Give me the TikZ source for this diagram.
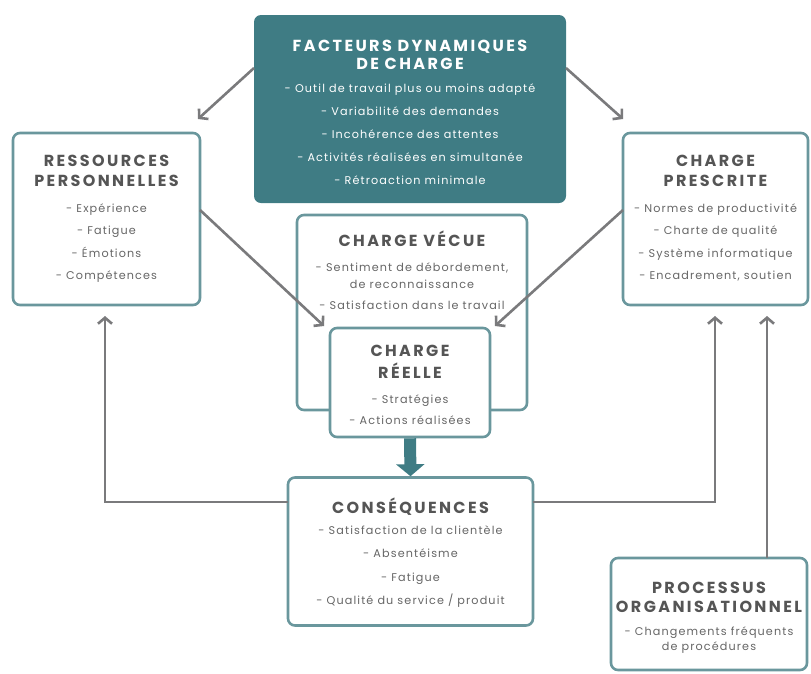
\documentclass[tikz,border=0pt]{standalone}
\usepackage{fontspec}
\setmainfont{Poppins}
\newfontfamily\ttlfont[LetterSpace=15]{Poppins}
\newfontfamily\itmfont[LetterSpace=10]{Poppins}
\usetikzlibrary{arrows.meta}
\definecolor{teal1}{HTML}{3F7C84}
\definecolor{bord}{HTML}{6A979D}
\definecolor{arr}{HTML}{7A7A7C}
\definecolor{ttlc}{HTML}{555555}
\definecolor{itmc}{HTML}{666666}
\tikzset{
  box/.style={draw=bord, line width=2.6pt, rounded corners=7pt, fill=white, inner sep=0pt},
  darkbox/.style={fill=teal1, rounded corners=7pt, inner sep=0pt},
  txt/.style={align=center, inner sep=0pt, text=itmc, font={\itmfont\fontsize{11.2}{#1}\selectfont}},
  conn/.style={draw=arr, line width=2.6pt, -{Straight Barb[length=6pt,width=14pt,line width=2.6pt]}},
}
\newcommand{\ttlx}[1]{{\ttlfont\bfseries\fontsize{16}{19}\selectfont\color{ttlc}#1}}
\newcommand{\ttlw}[1]{{\ttlfont\bfseries\fontsize{16}{19}\selectfont\color{white}#1}}
\begin{document}
\begin{tikzpicture}[x=1pt,y=-1pt]
\useasboundingbox (0,0) rectangle (811,673);
% boxes
\node[darkbox, minimum width=312, minimum height=188] (fdc) at (410,109) {};
\node[box, minimum width=187, minimum height=172] (rp) at (106.5,219) {};
\node[box, minimum width=185, minimum height=172] (cp) at (715.5,219) {};
\node[box, minimum width=230, minimum height=195] (cv) at (412,312.5) {};
\node[box, minimum width=160, minimum height=109] (cr) at (410,382.5) {};
\node[box, minimum width=245, minimum height=148] (cq) at (410.5,551.5) {};
\node[box, minimum width=196, minimum height=112] (po) at (709,614) {};
% texts
\node[txt=23, text=white, anchor=north] (tfdc) at (410,40) {\ttlw{FACTEURS DYNAMIQUES}\\[-5pt]\ttlw{DE CHARGE}\\[0pt]- Outil de travail plus ou moins adapté\\- Variabilité des demandes\\- Incohérence des attentes\\- Activités réalisées en simultanée\\- Rétroaction minimale};
\node[txt=22.4, anchor=north] (trp) at (106.5,155) {\ttlx{RESSOURCES}\\[-2.4pt]\ttlx{PERSONNELLES}\\[3.6pt]- Expérience\\- Fatigue\\- Émotions\\- Compétences};
\node[txt=22.4, anchor=north] (tcp) at (715.5,155) {\ttlx{CHARGE}\\[-2.4pt]\ttlx{PRESCRITE}\\[3.6pt]- Normes de productivité\\- Charte de qualité\\- Système informatique\\- Encadrement, soutien};
\node[txt=21, anchor=north] (tcv) at (412,231) {\ttlx{CHARGE VÉCUE}\\[4pt]- Sentiment de débordement,\\[-4pt]de reconnaissance\\- Satisfaction dans le travail};
\node[txt=21.5, anchor=north] (tcr) at (410,345) {\ttlx{CHARGE}\\[0.5pt]\ttlx{RÉELLE}\\[3.5pt]- Stratégies\\[-0.5pt]- Actions réalisées};
\node[txt=23.3, anchor=north] (tcq) at (410.5,498) {\ttlx{CONSÉQUENCES}\\[-2.5pt]- Satisfaction de la clientèle\\- Absentéisme\\- Fatigue\\- Qualité du service / produit};
\node[txt=23, anchor=north] (tpo) at (709,582) {\ttlx{PROCESSUS}\\[-4pt]\ttlx{ORGANISATIONNEL}\\[0pt]- Changements fréquents\\[-8pt]de procédures};
% connectors
\coordinate (a1s) at (254,68); \coordinate (a1e) at (198,119);
\coordinate (a2s) at (566,68); \coordinate (a2e) at (623,119);
\draw[conn] (a1s) -- (a1e);
\draw[conn] (a2s) -- (a2e);
\coordinate (a3s) at (200,210); \coordinate (a3e) at (324,326);
\coordinate (a4s) at (623,210); \coordinate (a4e) at (495,326);
\draw[conn] (a3s) -- (a3e);
\draw[conn] (a4s) -- (a4e);
\coordinate (lw) at (288,502); \coordinate (lt) at (105,316);
\coordinate (rw) at (533,502); \coordinate (rt) at (715,316);
\coordinate (pt) at (767,316); \coordinate (pb) at (767,558);
\draw[conn] (lw) -| (lt);
\draw[conn] (rw) -| (rt);
\draw[conn] (pb) -- (pt);
\draw[draw=teal1, line width=12pt, -{Triangle[length=12pt,width=28pt]}] (cr.south) -- (cq.north);
\end{tikzpicture}
\end{document}
